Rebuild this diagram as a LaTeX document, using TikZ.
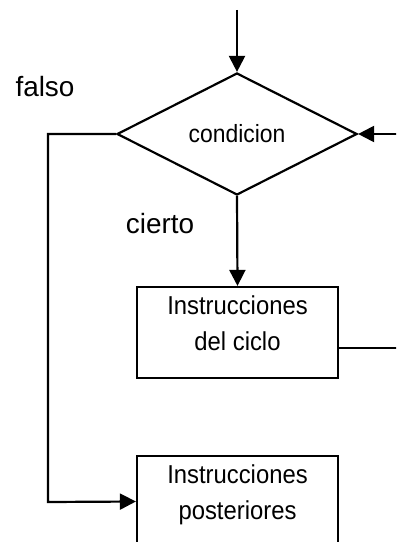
\documentclass[tikz,border=0pt]{standalone}
\usepackage{fontspec}
\setmainfont{Liberation Sans}
\newfontfamily\estrecha[FakeStretch=0.92]{Liberation Sans}
\usetikzlibrary{shapes.geometric,arrows.meta}
\begin{document}
\begin{tikzpicture}[x=1bp,y=-1bp]
\tikzset{
    caja/.style={draw, line width=2.2bp, minimum width=201bp, minimum height=91bp, inner sep=0pt, align=center, text depth=19bp, font=\estrecha\fontsize{26}{36}\selectfont},
    rombo/.style={draw, diamond, line width=2.2bp, minimum width=240bp, minimum height=122bp, aspect=1.97, inner sep=0pt, font=\estrecha\fontsize{25}{30}\selectfont},
    etiqueta/.style={text centered, font=\fontsize{28}{30}\selectfont},
    flecha/.style={line width=2.2bp, -{Triangle[length=16bp,width=16bp]}}
}
\useasboundingbox (0,0) rectangle (396,542);
\clip (0,0) rectangle (396,542);
\node[rombo] (cond) at (237,134) {condicion};
\node[caja] (ciclo) at (237.5,332.5) {Instrucciones\\del ciclo};
\node[caja] (poster) at (237.5,501.5) {Instrucciones\\posteriores};
\node[etiqueta] (falso) at (45,87) {falso};
\node[etiqueta] (cierto) at (160,224) {cierto};
\coordinate (inicio) at (237,10);
\coordinate (esq) at (48,502);
\coordinate (ret1) at (402,348);
\coordinate (ret2) at (402,134);
\draw[flecha] (inicio) -- (cond.north);
\draw[flecha] (cond.south) -- (ciclo.north);
\draw[flecha] (cond.west) -| (esq) -- (poster.west);
\draw[flecha] (ciclo.east |- ret1) -- (ret1) -- (ret2) -- (cond.east);
\end{tikzpicture}
\end{document}
